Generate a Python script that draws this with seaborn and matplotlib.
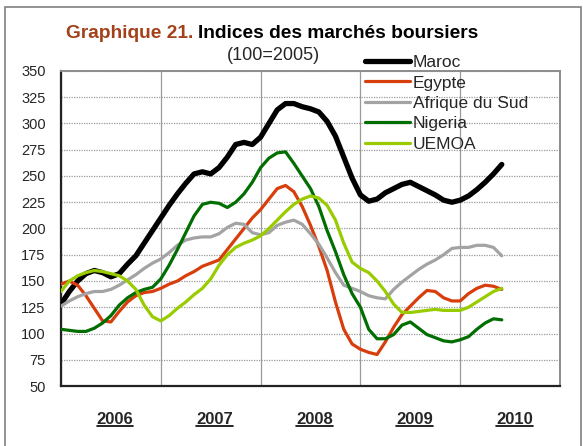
import numpy as np
import pandas as pd
import matplotlib
matplotlib.use('Agg')
import matplotlib.pyplot as plt
from matplotlib.lines import Line2D
from matplotlib.patches import Rectangle
from matplotlib.transforms import IdentityTransform
import seaborn as sns

# Monthly index values, Jan 2006 .. Jun 2010 (100=2005)
maroc = [128, 140, 150, 157, 160, 158, 154, 157, 166, 174, 186, 198,
         210, 222, 233, 243, 252, 254, 252, 258, 268, 280, 282, 280,
         287, 300, 313, 319, 319, 316, 314, 311, 302, 288, 268, 248,
         232, 226, 228, 234, 238, 242, 244, 240, 236, 232, 227, 225,
         227, 231, 237, 244, 252, 261]
egypte = [147, 150, 146, 136, 124, 112, 111, 121, 130, 136, 139, 140,
          143, 147, 150, 155, 159, 164, 167, 170, 180, 190, 200, 210,
          218, 228, 238, 241, 235, 221, 203, 183, 160, 130, 104, 90,
          85, 82, 80, 92, 106, 118, 126, 134, 141, 140, 134, 131,
          131, 138, 143, 146, 145, 142]
afrique_sud = [126, 131, 135, 138, 140, 140, 142, 146, 151, 156, 162, 167,
               171, 177, 184, 189, 191, 192, 192, 195, 201, 205, 204, 196,
               194, 196, 203, 206, 208, 204, 195, 185, 172, 158, 146, 143,
               140, 136, 134, 133, 142, 149, 155, 161, 166, 170, 175, 181,
               182, 182, 184, 184, 182, 174]
nigeria = [104, 103, 102, 102, 105, 110, 117, 127, 134, 139, 142, 144,
           152, 165, 180, 196, 212, 223, 225, 224, 220, 225, 233, 244,
           258, 267, 272, 273, 262, 250, 238, 221, 198, 178, 156, 138,
           125, 104, 95, 95, 99, 108, 111, 105, 99, 96, 93, 92,
           94, 97, 104, 110, 114, 113]
uemoa = [140, 150, 155, 158, 160, 159, 157, 155, 150, 142, 127, 116,
         112, 117, 124, 130, 137, 143, 152, 165, 175, 182, 186, 189,
         193, 200, 208, 216, 223, 228, 231, 229, 222, 208, 186, 168,
         162, 158, 150, 140, 128, 120, 120, 121, 122, 123, 122, 122,
         122, 125, 130, 135, 140, 143]

series_names = ['Maroc', 'Egypte', 'Afrique du Sud', 'Nigeria', 'UEMOA']
years = ['2006', '2007', '2008', '2009', '2010']

months = np.arange(len(maroc))
df = pd.DataFrame({'mois': months, 'Maroc': maroc, 'Egypte': egypte,
                   'Afrique du Sud': afrique_sud, 'Nigeria': nigeria,
                   'UEMOA': uemoa})
df = df.melt(id_vars='mois', var_name='pays', value_name='indice')

colors = {'Maroc': '#000000', 'Egypte': '#D83E0C', 'Afrique du Sud': '#A3A3A3',
          'Nigeria': '#006E00', 'UEMOA': '#99CC00'}
widths = {'Maroc': 3.8, 'Egypte': 2.3, 'Afrique du Sud': 2.3,
          'Nigeria': 2.3, 'UEMOA': 2.3}

sns.set_style('white')
plt.rcParams['font.family'] = ['Liberation Sans', 'DejaVu Sans']

W, H = 583, 446
fig = plt.figure(figsize=(W / 100, H / 100), dpi=100)
ax = fig.add_axes([61 / W, 1 - 386 / H, (560 - 61) / W, (386 - 71) / H])

for name in series_names:
    sub = df[df['pays'] == name]
    sns.lineplot(data=sub, x='mois', y='indice', color=colors[name],
                 linewidth=widths[name], ax=ax, label=name,
                 solid_capstyle='round', solid_joinstyle='round', zorder=3)

ax.set_xlim(0, 60)
ax.set_ylim(50, 350)
ax.set_yticks(np.arange(50, 351, 25))
ax.set_xticks(np.arange(0, 61, 12))
ax.set_xticklabels([])
ax.set_xlabel('')
ax.set_ylabel('')
ax.tick_params(axis='y', direction='out', length=7, width=1.3, color='#222222',
               labelsize=10.5, pad=4)
ax.tick_params(axis='x', direction='inout', length=11, width=1.3, color='#222222')

ax.yaxis.grid(True, linestyle=(0, (1, 1)), color='#9a9a9a', linewidth=0.9)
ax.xaxis.grid(True, linestyle='-', color='#9a9a9a', linewidth=0.9)
ax.set_axisbelow(True)

for side in ['left', 'bottom']:
    ax.spines[side].set_color('#222222')
    ax.spines[side].set_linewidth(1.6)
for side in ['top', 'right']:
    ax.spines[side].set_color('#8c8c8c')
    ax.spines[side].set_linewidth(1.4)

# year labels, bold and underlined, centred in each year
year_texts = []
for k, yr in enumerate(years):
    t = ax.text(12 * k + 6.5, -0.105, yr, transform=ax.get_xaxis_transform(),
                ha='center', va='center', fontsize=12, fontweight='bold')
    year_texts.append(t)

leg = ax.legend(loc='upper left', bbox_to_anchor=(365 / W, 1 - 55 / H),
                bbox_transform=fig.transFigure, frameon=False, fontsize=12.5,
                handlelength=2.6, handletextpad=0.15, labelspacing=0.3,
                borderpad=0, borderaxespad=0)
leg.set_zorder(5)

# title in two colours
fig.canvas.draw()
renderer = fig.canvas.get_renderer()
ty = 1 - 33 / H
t1 = fig.text(0, ty, 'Graphique 21. ', color='#A3421A', fontsize=13.8,
              fontweight='bold', ha='left', va='center')
t2 = fig.text(0, ty, 'Indices des marchés boursiers', color='black',
              fontsize=13.8, fontweight='bold', ha='left', va='center')
w1 = t1.get_window_extent(renderer).width
w2 = t2.get_window_extent(renderer).width
x0 = 272 - (w1 + w2) / 2
t1.set_x(x0 / W)
t2.set_x((x0 + w1) / W)
fig.text(273 / W, 1 - 55 / H, '(100=2005)', fontsize=13, ha='center', va='center')

fig.canvas.draw()
for t in year_texts:
    bb = t.get_window_extent(renderer)
    fig.add_artist(Line2D([bb.x0, bb.x1], [bb.y0 + 1, bb.y0 + 1],
                          transform=IdentityTransform(), color='black',
                          linewidth=1.2))

# outer frame of the figure
fig.add_artist(Rectangle((5 / W, -0.05), (581 - 5) / W, 1.05 - 7 / H,
                         transform=fig.transFigure, fill=False,
                         edgecolor='#808080', linewidth=1.2))

fig.savefig('out.png', dpi=100)
